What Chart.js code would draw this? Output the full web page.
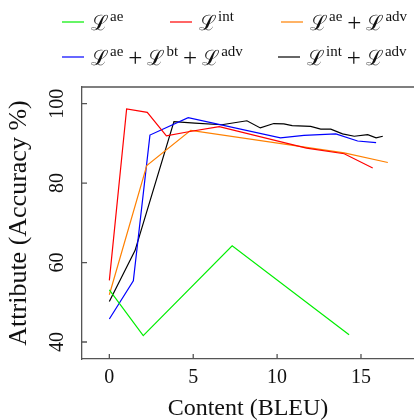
<!DOCTYPE html>
<html>
<head>
<meta charset="utf-8">
<script src="https://cdn.jsdelivr.net/npm/chart.js@4"></script>
<style>
    html, body { margin: 0; padding: 0; background: #fff; overflow: hidden; }
    #wrap { width: 414px; height: 420px; }
</style>
</head>
<body>
<div id="wrap"><canvas id="chart" width="414" height="420"></canvas></div>
<script>
// values
const aeBleu = [0, 2.02, 7.32, 14.29];
const aeAcc = [53.1, 41.6, 64.2, 41.8];

const intBleu = [0, 1.03, 2.26, 3.4, 4.8, 6.55, 11.75, 14.0, 15.7];
const intAcc = [55.5, 98.7, 97.8, 91.9, 93.0, 94.2, 88.8, 87.4, 83.8];

const aeAdvBleu = [0, 2.23, 4.85, 14.0, 16.6];
const aeAdvAcc = [51.9, 84.4, 93.3, 87.6, 85.2];

const aeBtAdvBleu = [0, 1.43, 2.42, 4.7, 10.2, 11.6, 13.5, 14.8, 15.9];
const aeBtAdvAcc = [45.8, 55.4, 92.1, 96.5, 91.4, 92.0, 92.4, 90.6, 90.2];

const intAdvBleu = [0, 1.53, 3.85, 5.1, 6.7, 8.2, 9.0, 9.8, 10.4, 10.9, 12.0, 12.6, 13.2, 13.9, 14.6, 15.4, 15.9, 16.3];
const intAdvAcc = [50.2, 63.0, 95.5, 95.1, 94.7, 95.7, 93.9, 95.0, 94.9, 94.5, 94.3, 93.6, 93.6, 92.4, 91.8, 92.2, 91.4, 91.8];

// superscripts of each loss term in the legend
const seriesTerms = [["ae"], ["int"], ["ae", "adv"], ["ae", "bt", "adv"], ["int", "adv"]];

const xTicks = [0, 5, 10, 15];
const yTicks = [40, 60, 80, 100];

const serif = '"Liberation Serif", "Times New Roman", serif';

function points(xs, ys) {
    return xs.map((x, i) => ({ x: x, y: ys[i] }));
}

function line(terms, xs, ys, color) {
    return {
        label: terms.map(t => "ℒ" + t).join(" + "),
        terms: terms,
        data: points(xs, ys),
        borderColor: color,
        backgroundColor: color,
        borderWidth: 1.2,
        pointRadius: 0,
        showLine: true,
        tension: 0,
    };
}

// legend laid out in two rows like the figure
const legendSpots = [[62, 22], [170, 22], [281, 22], [62, 57], [278, 57]];

const legendPlugin = {
    id: "mathLegend",
    afterDraw(chart) {
        const ctx = chart.ctx;
        ctx.save();
        chart.data.datasets.forEach((ds, i) => {
            const [lx, ly] = legendSpots[i];
            ctx.strokeStyle = ds.borderColor;
            ctx.lineWidth = 1.2;
            ctx.beginPath();
            ctx.moveTo(lx, ly);
            ctx.lineTo(lx + 22, ly);
            ctx.stroke();

            let x = lx + 29;
            const base = ly + 8;
            ctx.fillStyle = "#111";
            ctx.textBaseline = "alphabetic";
            ctx.textAlign = "left";
            ds.terms.forEach((t, k) => {
                if (k > 0) {
                    ctx.font = "25px " + serif;
                    x += 5;
                    ctx.fillText("+", x, base + 1);
                    x += ctx.measureText("+").width + 5;
                }
                ctx.font = "21px " + serif;
                ctx.fillText("ℒ", x, base);
                x += ctx.measureText("ℒ").width + 1;
                ctx.font = "15px " + serif;
                ctx.fillText(t, x, base - 9);
                x += ctx.measureText(t).width;
            });
        });
        ctx.restore();
    },
};

// top frame line and inward tick marks
const framePlugin = {
    id: "frame",
    afterDraw(chart) {
        const { ctx, chartArea: a, scales } = chart;
        ctx.save();
        ctx.strokeStyle = "#555";
        ctx.lineWidth = 1.3;
        ctx.beginPath();
        ctx.moveTo(a.left, a.top);
        ctx.lineTo(a.right, a.top);
        xTicks.forEach(v => {
            const px = scales.x.getPixelForValue(v);
            ctx.moveTo(px, a.bottom);
            ctx.lineTo(px, a.bottom - 5);
        });
        yTicks.forEach(v => {
            const py = scales.y.getPixelForValue(v);
            ctx.moveTo(a.left, py);
            ctx.lineTo(a.left + 5, py);
        });
        ctx.stroke();
        ctx.restore();
    },
};

const ctx = document.getElementById("chart").getContext("2d");

new Chart(ctx, {
    type: "scatter",
    data: {
        datasets: [
            line(seriesTerms[0], aeBleu, aeAcc, "#00ee00"),
            line(seriesTerms[1], intBleu, intAcc, "#ff0000"),
            line(seriesTerms[2], aeAdvBleu, aeAdvAcc, "#ff8000"),
            line(seriesTerms[3], aeBtAdvBleu, aeBtAdvAcc, "#0000ff"),
            line(seriesTerms[4], intAdvBleu, intAdvAcc, "#000000"),
        ],
    },
    options: {
        responsive: false,
        animation: false,
        devicePixelRatio: 1,
        layout: { padding: { top: 87, right: 0, bottom: 0, left: 0 } },
        plugins: {
            legend: { display: false },
            tooltip: { enabled: false },
        },
        scales: {
            x: {
                type: "linear",
                min: -1.63,
                max: 18.16,
                afterFit: s => { s.height = 61; },
                afterBuildTicks: s => { s.ticks = xTicks.map(v => ({ value: v })); },
                grid: { display: false },
                border: { display: true, color: "#555", width: 1.3 },
                ticks: {
                    includeBounds: false,
                    padding: -1,
                    color: "#111",
                    font: { family: serif, size: 20 },
                    maxRotation: 0,
                },
                title: {
                    display: true,
                    text: "Content (BLEU)",
                    color: "#111",
                    font: { family: serif, size: 24 },
                    padding: { top: 0, bottom: -3 },
                },
            },
            y: {
                min: 35.72,
                max: 104.2,
                afterFit: s => { s.width = 82; },
                afterBuildTicks: s => { s.ticks = yTicks.map(v => ({ value: v })); },
                grid: { display: false },
                border: { display: true, color: "#555", width: 1.3 },
                ticks: {
                    includeBounds: false,
                    minRotation: 90,
                    maxRotation: 90,
                    crossAlign: "center",
                    padding: 1,
                    color: "#111",
                    font: { family: serif, size: 20 },
                },
                title: {
                    display: true,
                    text: "Attribute (Accuracy %)",
                    color: "#111",
                    font: { family: serif, size: 26 },
                    padding: { top: 4, bottom: 0 },
                },
            },
        },
    },
    plugins: [legendPlugin, framePlugin],
});
</script>
</body>
</html>
